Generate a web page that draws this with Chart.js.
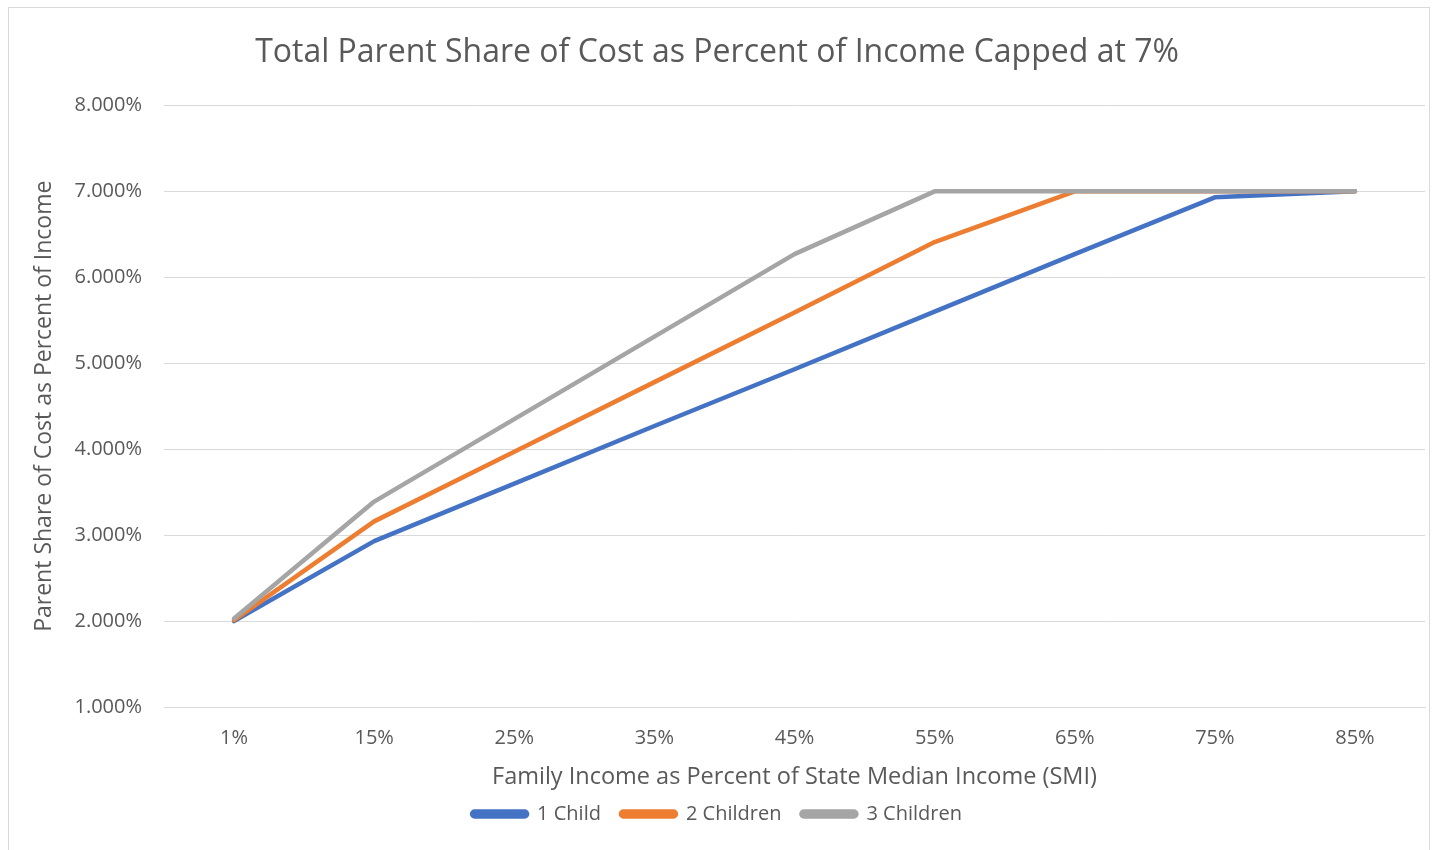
<!DOCTYPE html>
<html>
<head>
<meta charset="utf-8">
<script src="https://cdn.jsdelivr.net/npm/chart.js@4.4.1/dist/chart.umd.min.js"></script>
<style>
  html, body { margin: 0; padding: 0; background: #ffffff; }
  #frame {
    position: absolute;
    left: 8px;
    top: 7px;
    width: 1422px;
    height: 850px;
    border: 1px solid #d9d9d9;
    box-sizing: border-box;
  }
  #wrap { position: absolute; left: 0; top: 0; width: 1421px; height: 842px; }
</style>
</head>
<body>
<div id="frame"><div id="wrap"><canvas id="costChart"></canvas></div></div>
<script>
const incomeLabels = ["1%", "15%", "25%", "35%", "45%", "55%", "65%", "75%", "85%"];
const oneChild = [2.0, 2.93, 3.6, 4.27, 4.93, 5.6, 6.27, 6.93, 7.0];
const twoChildren = [2.01, 3.16, 3.97, 4.78, 5.59, 6.41, 7.0, 7.0, 7.0];
const threeChildren = [2.03, 3.39, 4.35, 5.31, 6.27, 7.0, 7.0, 7.0, 7.0];
const yTicks = [1, 2, 3, 4, 5, 6, 7, 8];

const textColor = "#595959";
const gridColor = "#d9d9d9";
const fontName = "'Open Sans', sans-serif";

function lineSet(label, data, color, order) {
  return {
    label: label,
    data: data,
    borderColor: color,
    backgroundColor: color,
    borderWidth: 4.5,
    borderCapStyle: "round",
    borderJoinStyle: "round",
    pointRadius: 0,
    pointHoverRadius: 0,
    tension: 0,
    fill: false,
    order: order,
  };
}

const ctx = document.getElementById("costChart").getContext("2d");
new Chart(ctx, {
  type: "line",
  data: {
    labels: incomeLabels,
    datasets: [
      lineSet("1 Child", oneChild, "#4472c4", 2),
      lineSet("2 Children", twoChildren, "#ed7d31", 1),
      lineSet("3 Children", threeChildren, "#a5a5a5", 0),
    ],
  },
  options: {
    responsive: true,
    maintainAspectRatio: false,
    animation: false,
    layout: { padding: { left: 0, right: 5, top: 0, bottom: 16 } },
    plugins: {
      title: {
        display: true,
        text: "Total Parent Share of Cost as Percent of Income Capped at 7%",
        color: textColor,
        font: { family: fontName, size: 32, weight: "normal" },
        padding: { top: 26, bottom: 33 },
      },
      legend: {
        position: "bottom",
        labels: {
          color: textColor,
          font: { family: fontName, size: 20 },
          boxWidth: 55,
          boxHeight: 5,
          useBorderRadius: true,
          borderRadius: 2.5,
          padding: 20,
          sort: (a, b) => a.datasetIndex - b.datasetIndex,
        },
      },
      tooltip: { enabled: false },
    },
    scales: {
      x: {
        offset: true,
        grid: { display: false },
        border: { display: true, color: gridColor, width: 1 },
        ticks: {
          color: textColor,
          font: { family: fontName, size: 20 },
          padding: 11,
        },
        title: {
          display: true,
          text: "Family Income as Percent of State Median Income (SMI)",
          color: textColor,
          font: { family: fontName, size: 23.5 },
          padding: { top: 0, bottom: -7 },
        },
        afterFit: (scale) => { scale.height = 77; },
      },
      y: {
        min: 1,
        max: 8,
        afterBuildTicks: (scale) => {
          scale.ticks = yTicks.map((v) => ({ value: v }));
        },
        grid: { color: gridColor, lineWidth: 1, drawTicks: false },
        border: { display: false },
        ticks: {
          color: textColor,
          font: { family: fontName, size: 20 },
          padding: 22,
          callback: (v) => v.toFixed(3) + "%",
        },
        title: {
          display: true,
          text: "Parent Share of Cost as Percent of Income",
          color: textColor,
          font: { family: fontName, size: 23 },
          padding: { top: 22, bottom: 0 },
        },
        afterFit: (scale) => { scale.width = 155; },
      },
    },
  },
});
</script>
</body>
</html>
